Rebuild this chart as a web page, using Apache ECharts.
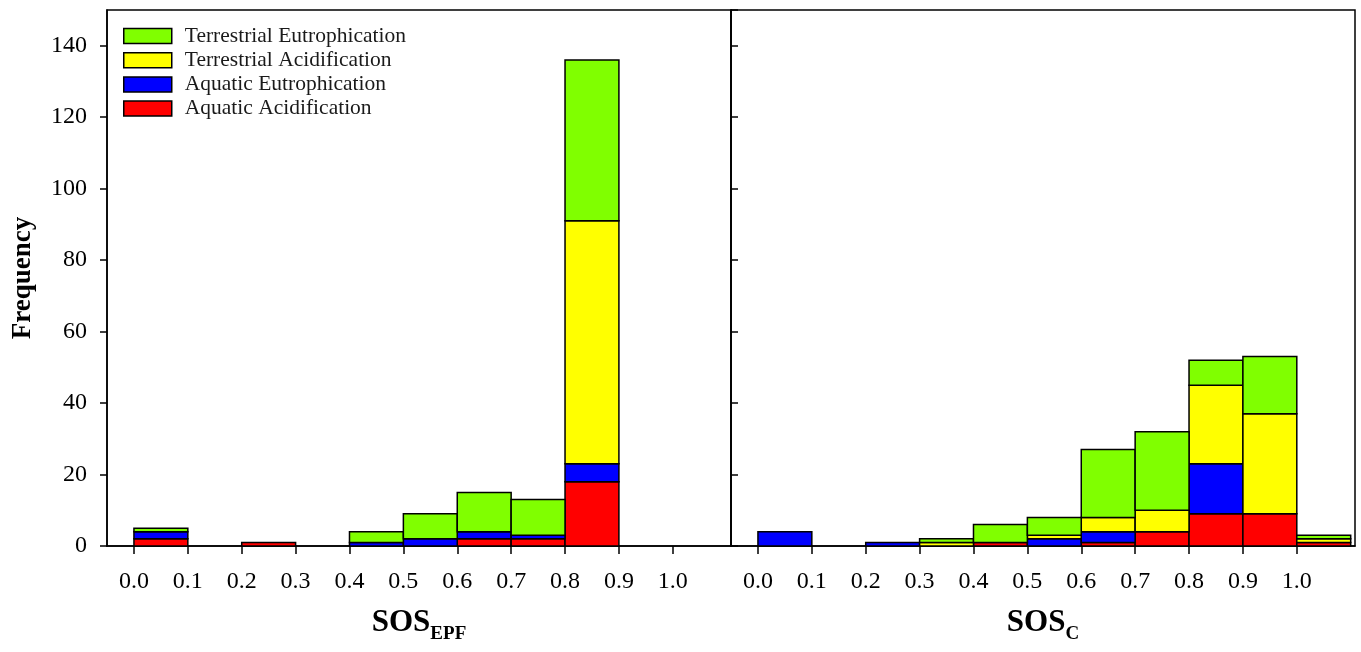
<!DOCTYPE html>
<html><head><meta charset="utf-8">
<script src="https://cdn.jsdelivr.net/npm/echarts@6/dist/echarts.min.js"></script>
<style>html,body{margin:0;padding:0;background:#fff}#c{width:1361px;height:652px}</style>
</head><body><div id="c"></div>
<script>
// ---- data ----
const seriesNames = ['Terrestrial Eutrophication', 'Terrestrial Acidification', 'Aquatic Eutrophication', 'Aquatic Acidification'];
const seriesColors = ['#80ff00', '#ffff00', '#0000ff', '#ff0000'];
const binStarts = [0.0, 0.1, 0.2, 0.3, 0.4, 0.5, 0.6, 0.7, 0.8, 0.9, 1.0];
const binWidth = 0.1;
const tickValues = [0.0, 0.1, 0.2, 0.3, 0.4, 0.5, 0.6, 0.7, 0.8, 0.9, 1.0];

// Left panel: SOS_EPF (bins 0.0 .. 0.9)
const epfAquaticAcidification = [2, 0, 1, 0, 0, 0, 2, 2, 18, 0];
const epfAquaticEutrophication = [2, 0, 0, 0, 1, 2, 2, 1, 5, 0];
const epfTerrestrialAcidification = [0, 0, 0, 0, 0, 0, 0, 0, 68, 0];
const epfTerrestrialEutrophication = [1, 0, 0, 0, 3, 7, 11, 10, 45, 0];

// Right panel: SOS_C (bins 0.0 .. 1.0)
const cAquaticAcidification = [0, 0, 0, 0, 1, 0, 1, 4, 9, 9, 1];
const cAquaticEutrophication = [4, 0, 1, 0, 0, 2, 3, 0, 14, 0, 0];
const cTerrestrialAcidification = [0, 0, 0, 1, 0, 1, 4, 6, 22, 28, 1];
const cTerrestrialEutrophication = [0, 0, 0, 1, 5, 5, 19, 22, 7, 16, 1];

// ---- build ----
const FONT = '"Liberation Serif", "Times New Roman", serif';

function renderBar(params, api) {
  const x0 = api.value(0), x1 = api.value(1), y0 = api.value(2), y1 = api.value(3);
  const p0 = api.coord([x0, y1]);
  const p1 = api.coord([x1, y0]);
  return {
    type: 'rect',
    shape: { x: p0[0], y: p0[1], width: p1[0] - p0[0], height: p1[1] - p0[1] },
    style: { fill: api.visual('color'), stroke: '#000', lineWidth: 1.5 }
  };
}

// stacks given bottom -> top, with names/colors in that same order
function buildStack(arrays, names, colors, gridIndex) {
  const base = arrays[0].map(() => 0);
  const out = [];
  arrays.forEach((arr, k) => {
    const data = [];
    arr.forEach((v, i) => {
      if (v > 0) data.push([binStarts[i], binStarts[i] + binWidth, base[i], base[i] + v]);
      base[i] += v;
    });
    out.push({
      type: 'custom', name: names[k], xAxisIndex: gridIndex, yAxisIndex: gridIndex,
      renderItem: renderBar, itemStyle: { color: colors[k] },
      encode: { x: [0, 1], y: [2, 3] }, data: data, clip: false
    });
  });
  return out;
}

const bottomUpNames = [seriesNames[3], seriesNames[2], seriesNames[1], seriesNames[0]];
const bottomUpColors = [seriesColors[3], seriesColors[2], seriesColors[1], seriesColors[0]];

const series = [].concat(
  buildStack([epfAquaticAcidification, epfAquaticEutrophication, epfTerrestrialAcidification, epfTerrestrialEutrophication], bottomUpNames, bottomUpColors, 0),
  buildStack([cAquaticAcidification, cAquaticEutrophication, cTerrestrialAcidification, cTerrestrialEutrophication], bottomUpNames, bottomUpColors, 1)
);

function xAxisFor(gridIndex, mainText, subText) {
  return {
    type: 'value', gridIndex: gridIndex, min: -0.05, max: 1.108,
    splitLine: { show: false },
    axisLine: { show: true, onZero: false, lineStyle: { color: '#000', width: 1.5 } },
    axisTick: { show: true, length: 8, customValues: tickValues, lineStyle: { color: '#000', width: 1.5 } },
    axisLabel: { customValues: tickValues, formatter: v => v.toFixed(1), fontFamily: FONT, fontSize: 24, color: '#000', margin: 24 },
    name: '{m|' + mainText + '}{s|' + subText + '}',
    nameLocation: 'middle', nameGap: 61,
    nameTextStyle: {
      rich: {
        m: { fontFamily: FONT, fontWeight: 'bold', fontSize: 31, lineHeight: 34, color: '#000', verticalAlign: 'top' },
        s: { fontFamily: FONT, fontWeight: 'bold', fontSize: 19, lineHeight: 22, color: '#000', padding: [18, 0, 0, 0], verticalAlign: 'top' }
      }
    }
  };
}

const option = {
  animation: false,
  backgroundColor: '#fff',
  grid: [
    { left: 107, top: 10, width: 624, height: 536, show: true, borderColor: '#000', borderWidth: 1.5, outerBoundsMode: 'none' },
    { left: 731, top: 10, width: 624, height: 536, show: true, borderColor: '#000', borderWidth: 1.5, outerBoundsMode: 'none' }
  ],
  legend: {
    data: seriesNames, orient: 'vertical', left: 123, top: 25, padding: 0,
    itemWidth: 48, itemHeight: 15, itemGap: 2.2, icon: 'rect',
    itemStyle: { borderColor: '#000', borderWidth: 1.5 },
    textStyle: { fontFamily: FONT, fontSize: 21.5, color: '#1a1a1a', padding: [0, 0, 0, 8] },
    selectedMode: false
  },
  xAxis: [xAxisFor(0, 'SOS', 'EPF'), xAxisFor(1, 'SOS', 'C')],
  yAxis: [
    {
      type: 'value', gridIndex: 0, min: 0, max: 150, interval: 20,
      splitLine: { show: false },
      axisLine: { show: true, onZero: false, lineStyle: { color: '#000', width: 1.5 } },
      axisTick: { show: true, length: 7, lineStyle: { color: '#000', width: 1.5 } },
      axisLabel: { showMaxLabel: false, fontFamily: FONT, fontSize: 24, color: '#000', margin: 20 },
      name: 'Frequency', nameLocation: 'middle', nameGap: 70, nameRotate: 90,
      nameTextStyle: { fontFamily: FONT, fontWeight: 'bold', fontSize: 27, color: '#000' }
    },
    {
      type: 'value', gridIndex: 1, min: 0, max: 150, interval: 20,
      splitLine: { show: false },
      axisLine: { show: true, onZero: false, lineStyle: { color: '#000', width: 1.5 } },
      axisTick: { show: true, inside: true, length: 7, lineStyle: { color: '#000', width: 1.5 } },
      axisLabel: { show: false }
    }
  ],
  series: series
};

const chart = echarts.init(document.getElementById('c'), null, { renderer: 'canvas' });
chart.setOption(option);
</script>
</body></html>
